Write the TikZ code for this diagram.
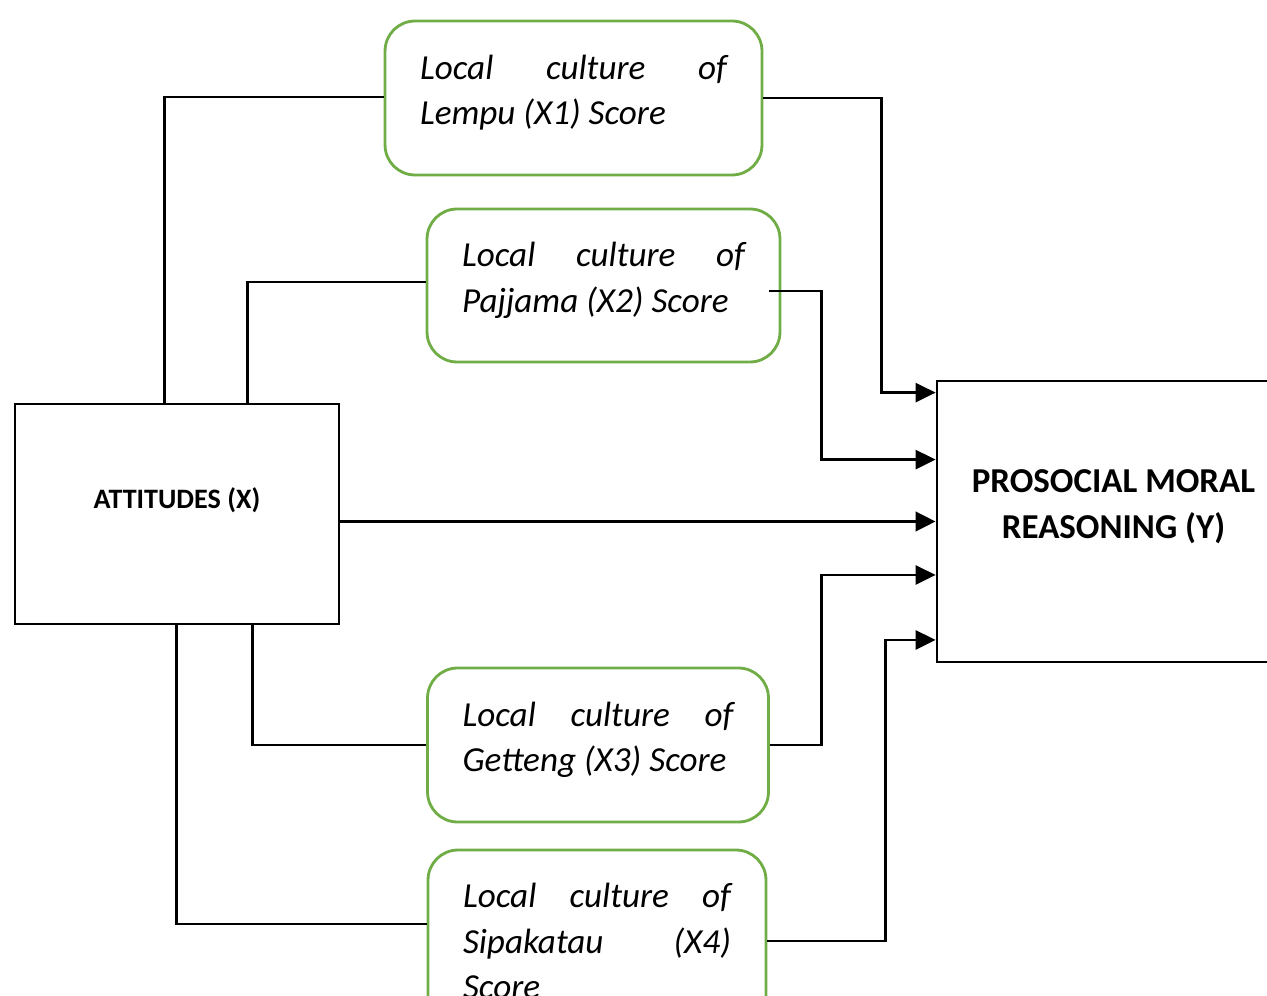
\documentclass[tikz,border=0pt]{standalone}
\usepackage{fontspec}
\setmainfont{Carlito}
\usetikzlibrary{arrows.meta,positioning}
\definecolor{boxgreen}{RGB}{112,173,71}

\begin{document}
\begin{tikzpicture}[
    x=0.02cm, y=-0.02cm,
    culturebox/.style={
        draw=boxgreen, line width=1.6pt,
        rounded corners=0.6cm,
        inner xsep=0.7cm, inner ysep=0pt,
        align=justify,
        font=\fontsize{20}{26}\selectfont\itshape
    },
    varbox/.style={draw, line width=1.6pt},
    vartext/.style={align=center, font=\bfseries, yshift=0.27cm},
    link/.style={line width=1.6pt},
    arr/.style={line width=1.6pt, -{Triangle[length=0.4cm,width=0.38cm]}}
]
\useasboundingbox (0,0) rectangle (1267,996);
\clip (0,0) rectangle (1267,996);
\node[culturebox, text width=6.14cm, minimum height=3.08cm, text depth=1.24cm] (lempu) at (573.5,98)
    {Local\hfill culture\hfill of\\Lempu (X1) Score};
\node[culturebox, text width=5.66cm, minimum height=3.06cm, text depth=1.24cm] (pajjama) at (603.5,285.5)
    {Local\hfill culture\hfill of\\Pajjama (X2) Score};
\node[culturebox, text width=5.42cm, minimum height=3.08cm, text depth=1.24cm] (getteng) at (598,745)
    {Local\hfill culture\hfill of\\Getteng (X3) Score};
\node[culturebox, text width=5.36cm, minimum height=3.64cm] (sipakatau) at (597,941)
    {Local\hfill culture\hfill of\\Sipakatau\hfill (X4)\\Score};
\node[varbox, minimum width=6.48cm, minimum height=4.4cm,
    label={[vartext, font=\bfseries\fontsize{16}{20}\selectfont]center:ATTITUDES (X)}]
    (att) at (177,514) {};
\node[varbox, minimum width=7.06cm, minimum height=5.62cm,
    label={[vartext, font=\bfseries\fontsize{19.9}{26}\selectfont, yshift=0.02cm]center:PROSOCIAL MORAL\\REASONING (Y)}]
    (pros) at (1113.5,521.5) {};

\draw[link] ([xshift=3.02cm]att.north west) |- ([yshift=0.02cm]lempu.west);
\draw[link] ([xshift=4.68cm]att.north west) |- ([yshift=0.07cm]pajjama.west);
\draw[link] ([xshift=4.78cm]att.south west) |- (getteng.west);
\draw[link] ([xshift=3.26cm]att.south west) |- ([yshift=0.34cm]sipakatau.west);

\draw[arr] (lempu.east) -- ++(118,0) |- ([yshift=-0.26cm]pros.north west);
\draw[arr] ([xshift=-0.24cm,yshift=-0.11cm]pajjama.east) -- ++(52,0) |- ([yshift=-1.6cm]pros.north west);
\draw[arr, line width=2.2pt] (att.east |- pros.west) -- (pros.west);
\draw[arr] (getteng.east) -- ++(52,0) |- ([yshift=-1.07cm]pros.west);
\draw[arr] (sipakatau.east) -- ++(118,0) |- ([yshift=-2.37cm]pros.west);
\end{tikzpicture}
\end{document}
